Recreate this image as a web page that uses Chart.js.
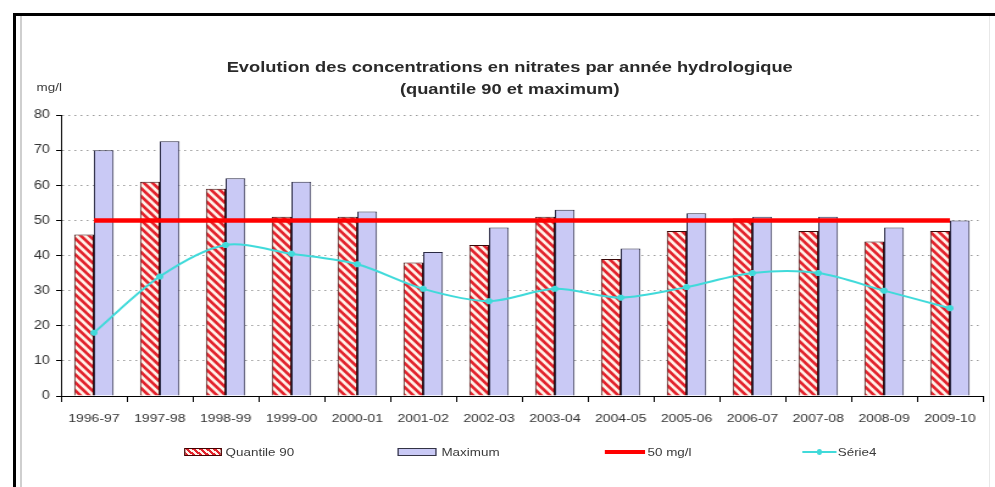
<!DOCTYPE html>
<html>
<head>
<meta charset="utf-8">
<script src="https://cdn.jsdelivr.net/npm/chart.js@4/dist/chart.umd.min.js"></script>
<style>
  html, body { margin:0; padding:0; background:#fff; }
  body { width:995px; height:487px; overflow:hidden; position:relative; font-family:"Liberation Sans", Arial, sans-serif; }
  .abs { position:absolute; }
  #wrap { position:absolute; left:0; top:0; width:816px; height:487px; transform:scaleX(1.2194); transform-origin:0 0; }
  .ttl { position:absolute; left:0; width:836px; text-align:center; font-weight:bold; font-size:15px; line-height:22px; color:#2a2a2a; white-space:nowrap; }
  .lt { position:absolute; font-size:11px; line-height:13px; color:#3a3a3a; white-space:nowrap; }
</style>
</head>
<body>
<div class="abs" style="left:13px;top:13px;width:982px;height:3px;background:#000"></div>
<div class="abs" style="left:13px;top:13px;width:3px;height:474px;background:#000"></div>
<div class="abs" style="left:20px;top:16px;width:2px;height:471px;background:#cfcfcf"></div>
<div class="abs" style="left:989px;top:16px;width:1px;height:471px;background:#e8e8e8"></div>

<div id="wrap">
  <canvas id="c" width="816" height="487" style="position:absolute;left:0;top:0;width:816px;height:487px"></canvas>
  <div class="ttl" style="top:56px">Evolution des concentrations en nitrates par année hydrologique</div>
  <div class="ttl" style="top:78px">(quantile 90 et maximum)</div>
  <div class="lt" style="left:30px;top:81px">mg/l</div>

  <div class="abs" style="left:151px;top:448px;width:29px;height:6px;border:1px solid #400;background:repeating-linear-gradient(45deg,#e3222c 0 2px,#fff3ea 2px 4px)"></div>
  <div class="lt" style="left:185px;top:446px">Quantile 90</div>
  <div class="abs" style="left:326px;top:448px;width:30px;height:6px;border:1px solid #334;background:#c9c9f5"></div>
  <div class="lt" style="left:362px;top:446px">Maximum</div>
  <div class="abs" style="left:496px;top:450px;width:33px;height:4px;background:#ff0000"></div>
  <div class="lt" style="left:531px;top:446px">50 mg/l</div>
  <div class="abs" style="left:658px;top:451px;width:28px;height:2px;background:#40dada"></div>
  <div class="abs" style="left:670px;top:449px;width:4px;height:6px;background:#40dada;border-radius:2px"></div>
  <div class="lt" style="left:687px;top:446px">Série4</div>
</div>

<script>
// ---- data ----
const categories = ['1996-97','1997-98','1998-99','1999-00','2000-01','2001-02','2002-03','2003-04','2004-05','2005-06','2006-07','2007-08','2008-09','2009-10'];
const quantile90 = [46, 61, 59, 51, 51, 38, 43, 51, 39, 47, 50.5, 47, 44, 47];
const maximum    = [70, 72.5, 62, 61, 52.5, 41, 48, 53, 42, 52, 51, 51, 48, 50];
const seuil50    = [50, 50, 50, 50, 50, 50, 50, 50, 50, 50, 50, 50, 50, 50];
const serie4     = [18, 34, 43, 40.5, 37.5, 30.5, 27, 30.5, 28, 31, 35, 35, 30, 25];
const seriesNames = ['Quantile 90', 'Maximum', '50 mg/l', 'Série4'];

function makeHatch(ctx) {
  const c = document.createElement('canvas');
  c.width = 7; c.height = 8;
  const g = c.getContext('2d');
  g.fillStyle = '#fff3ea';
  g.fillRect(0, 0, 7, 8);
  g.strokeStyle = '#e3222c';
  g.lineWidth = 2.6;
  for (const o of [-7, 0, 7]) {
    g.beginPath();
    g.moveTo(o - 7, -8);
    g.lineTo(o + 14, 16);
    g.stroke();
  }
  return ctx.createPattern(c, 'repeat');
}

const canvas = document.getElementById('c');
const ctx = canvas.getContext('2d');
const hatch = makeHatch(ctx);

new Chart(ctx, {
  data: {
    labels: categories,
    datasets: [
      { type: 'bar', label: seriesNames[0], data: quantile90, backgroundColor: hatch, borderColor: '#3a0808', borderWidth: 1, order: 2 },
      { type: 'bar', label: seriesNames[1], data: maximum, backgroundColor: '#c9c9f5', borderColor: '#2a2a44', borderWidth: 1, order: 2 },
      { type: 'line', label: seriesNames[2], data: seuil50, borderColor: '#ff0000', borderWidth: 4.5, pointRadius: 0, fill: false, order: 1 },
      { type: 'line', label: seriesNames[3], data: serie4, borderColor: '#40dada', backgroundColor: '#40dada', borderWidth: 2, tension: 0.3,
        pointStyle: 'star', pointRadius: 3, pointBorderWidth: 2, pointBorderColor: '#40dada', fill: false, order: 0 }
    ]
  },
  options: {
    responsive: false,
    animation: false,
    devicePixelRatio: 1,
    layout: { padding: { left: 0, right: 10, top: 115, bottom: 0 } },
    plugins: { legend: { display: false }, title: { display: false }, tooltip: { enabled: false } },
    datasets: { bar: { categoryPercentage: 0.6, barPercentage: 1.0 } },
    scales: {
      x: {
        offset: true,
        grid: { offset: true, drawOnChartArea: false, drawTicks: true, tickLength: 6, tickColor: '#000', tickWidth: 1 },
        border: { display: true, color: '#000', width: 1 },
        ticks: { color: '#333', font: { family: 'Liberation Sans', size: 11.5 }, padding: 10, maxRotation: 0, autoSkip: false },
        afterFit: s => { s.height = 91; }
      },
      y: {
        min: 0, max: 80,
        ticks: { stepSize: 10, color: '#333', font: { family: 'Liberation Sans', size: 12 }, padding: 5 },
        grid: {
          color: c => (c.tick && c.tick.value === 0) ? 'rgba(0,0,0,0)' : '#9a9a9a',
          lineWidth: 1, drawTicks: true, tickLength: 4, tickColor: '#000', tickWidth: 1,
          borderDash: [1.5, 3.5]
        },
        border: { display: true, color: '#000', width: 1, dash: [1.5, 3.5] },
        afterFit: s => { s.width = 50; }
      }
    }
  }
});
</script>
</body>
</html>
